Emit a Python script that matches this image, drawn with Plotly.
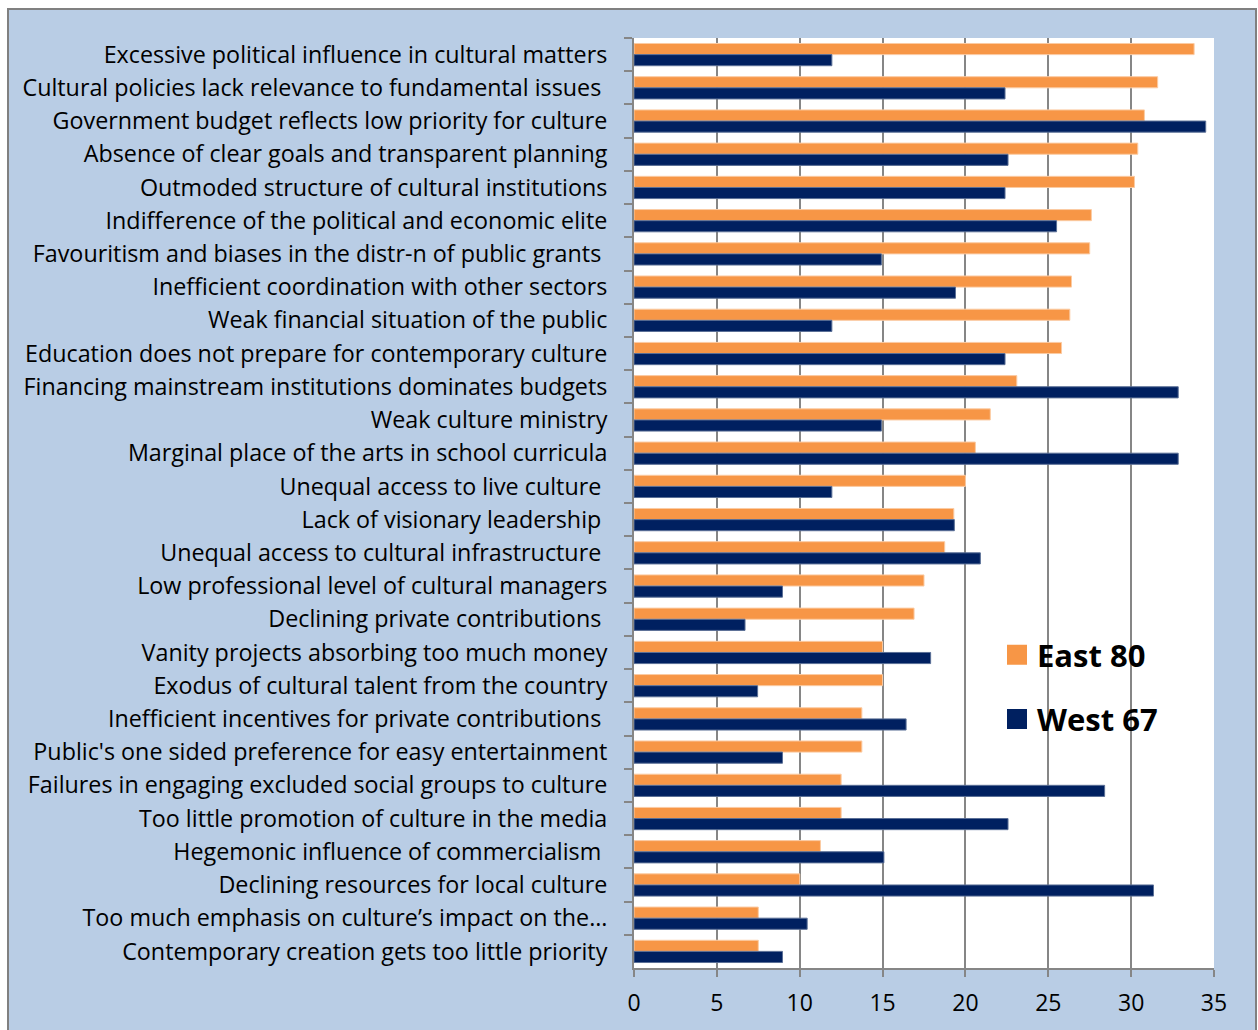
import plotly.graph_objects as go

# Problem statements (top to bottom) and share of respondents naming them, in %
categories = [
    "Excessive political influence in cultural matters",
    "Cultural policies lack relevance to fundamental issues\u00a0",
    "Government budget reflects low priority for culture",
    "Absence of clear goals and transparent planning",
    "Outmoded structure of cultural institutions",
    "Indifference of the political and economic elite",
    "Favouritism and biases in the distr-n of public grants\u00a0",
    "Inefficient coordination with other sectors",
    "Weak financial situation of the public",
    "Education does not prepare for contemporary culture",
    "Financing mainstream institutions dominates budgets",
    "Weak culture ministry",
    "Marginal place of the arts in school curricula",
    "Unequal access to live culture\u00a0",
    "Lack of visionary leadership\u00a0",
    "Unequal access to cultural infrastructure\u00a0",
    "Low professional level of cultural managers",
    "Declining private contributions\u00a0",
    "Vanity projects absorbing too much money",
    "Exodus of cultural talent from the country",
    "Inefficient incentives for private contributions\u00a0",
    "Public's one sided preference for easy entertainment",
    "Failures in engaging excluded social groups to culture",
    "Too little promotion of culture in the media",
    "Hegemonic influence of commercialism\u00a0",
    "Declining resources for local culture",
    "Too much emphasis on culture’s impact on the…",
    "Contemporary creation gets too little priority",
]

east_values = [33.8, 31.6, 30.8, 30.4, 30.2, 27.6, 27.5, 26.4, 26.3, 25.8,
               23.1, 21.5, 20.6, 20.0, 19.3, 18.75, 17.5, 16.9, 15.0, 15.0,
               13.75, 13.75, 12.5, 12.5, 11.25, 10.0, 7.5, 7.5]
west_values = [11.94, 22.39, 34.5, 22.57, 22.39, 25.5, 14.93, 19.4, 11.94, 22.39,
               32.84, 14.93, 32.84, 11.94, 19.33, 20.9, 8.96, 6.7, 17.9, 7.46,
               16.42, 8.96, 28.4, 22.57, 15.08, 31.35, 10.45, 8.96]

series_names = ["East 80", "West 67"]
series_colors = ["#F79646", "#002060"]
series_edges = ["#FBCBA3", "#5A6F96"]

x_ticks = [0, 5, 10, 15, 20, 25, 30, 35]

W, H = 1258, 1030
L, R, T, B = 634, 44, 38, 59
PW, PH = W - L - R, H - T - B

fig = go.Figure()

for name, vals, col, edge in zip(series_names, [east_values, west_values],
                                 series_colors, series_edges):
    fig.add_trace(go.Bar(
        y=categories, x=vals, orientation="h", name=name,
        marker=dict(color=col, line=dict(color=edge, width=1)),
        showlegend=False, hoverinfo="x+y",
    ))

# legend entries with large square swatches
for i, (name, col) in enumerate(zip(series_names, series_colors)):
    fig.add_trace(go.Scatter(
        x=[None], y=[None], mode="markers", name=name,
        legendgroup=f"g{i}",
        marker=dict(symbol="square", size=16, color=col,
                    line=dict(color=col, width=4)),
    ))


def px_x(p):
    return (p - L) / PW


def px_y(p):
    return (H - B - p) / PH


grey = "#868686"
shapes = [
    # white margin outside the chart frame
    dict(type="rect", xref="paper", yref="paper", x0=px_x(-5), x1=px_x(7),
         y0=px_y(H + 5), y1=px_y(-5), fillcolor="white", line=dict(width=0),
         layer="below"),
    dict(type="rect", xref="paper", yref="paper", x0=px_x(-5), x1=px_x(W + 5),
         y0=px_y(8), y1=px_y(-5), fillcolor="white", line=dict(width=0),
         layer="below"),
    dict(type="rect", xref="paper", yref="paper", x0=px_x(1257), x1=px_x(W + 5),
         y0=px_y(H + 5), y1=px_y(-5), fillcolor="white", line=dict(width=0),
         layer="below"),
    # chart frame
    dict(type="rect", xref="paper", yref="paper", x0=px_x(8), x1=px_x(1256),
         y0=px_y(H + 10), y1=px_y(9), fillcolor="rgba(0,0,0,0)",
         line=dict(color="#808080", width=2), layer="below"),
]

fig.update_layout(
    width=W, height=H,
    margin=dict(l=L, r=R, t=T, b=B, pad=0),
    paper_bgcolor="#B9CDE5",
    plot_bgcolor="white",
    barmode="group", bargap=0.33, bargroupgap=0,
    font=dict(family="Open Sans", color="black"),
    shapes=shapes,
    legend=dict(
        x=(997 - L) / PW, y=px_y(630), xanchor="left", yanchor="top",
        bgcolor="rgba(0,0,0,0)", borderwidth=0,
        font=dict(size=31, family="Open Sans", weight="bold", color="black"),
        tracegroupgap=21, itemwidth=30,
    ),
    xaxis=dict(
        range=[0, 35], tickvals=x_ticks, ticktext=[str(v) for v in x_ticks],
        showgrid=True, gridcolor=grey, gridwidth=1.5,
        showline=True, linecolor=grey, linewidth=2,
        ticks="outside", ticklen=7, tickwidth=2, tickcolor=grey,
        tickfont=dict(size=23, family="Open Sans"), zeroline=False,
        ticklabelstandoff=6, mirror=False, fixedrange=True,
    ),
    yaxis=dict(
        type="category", categoryorder="array", categoryarray=categories,
        autorange="reversed",
        showline=True, linecolor=grey, linewidth=2,
        ticks="outside", ticklen=8, tickwidth=2, tickcolor=grey,
        tickson="boundaries",
        tickfont=dict(size=23.3, family="Open Sans"),
        ticklabelstandoff=20, showgrid=False, fixedrange=True,
    ),
)

fig.write_html("out.html")
